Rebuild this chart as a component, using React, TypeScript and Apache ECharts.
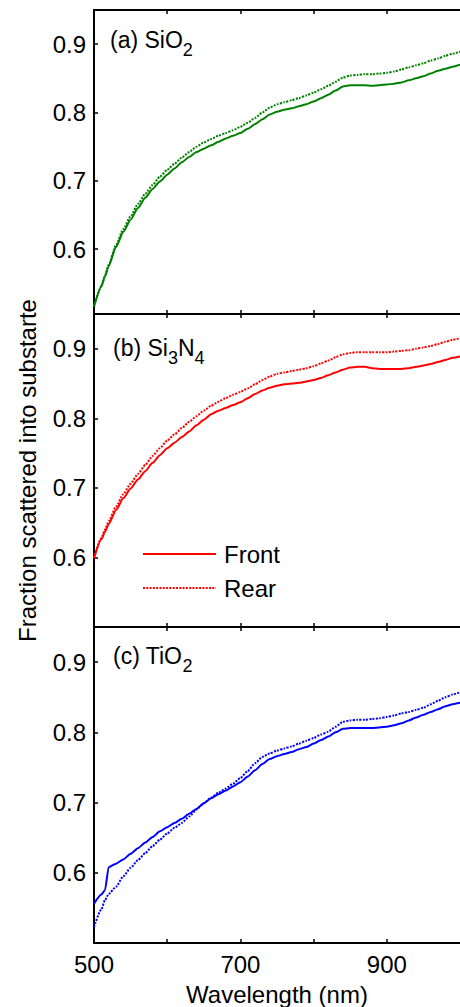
import React, { useEffect, useRef } from "react";
import * as echarts from "echarts";

const wavelength = [500, 510, 515, 520, 530, 540, 550, 560, 570, 580, 590, 600, 610, 620, 630, 640, 650, 660, 670, 680, 690, 700, 710, 720, 730, 740, 750, 760, 770, 780, 790, 800, 810, 820, 830, 840, 850, 860, 870, 880, 890, 900, 910, 920, 930, 940, 950, 960, 970, 980, 990, 1000];

const sio2Front = [0.516, 0.545, 0.560, 0.575, 0.603, 0.625, 0.643, 0.660, 0.675, 0.688, 0.699, 0.709, 0.718, 0.727, 0.735, 0.742, 0.747, 0.752, 0.757, 0.762, 0.766, 0.770, 0.776, 0.783, 0.790, 0.797, 0.801, 0.804, 0.806, 0.809, 0.812, 0.816, 0.821, 0.826, 0.832, 0.838, 0.840, 0.840, 0.840, 0.839, 0.840, 0.841, 0.842, 0.844, 0.847, 0.850, 0.853, 0.857, 0.861, 0.864, 0.867, 0.870];
const sio2Rear = [0.516, 0.546, 0.561, 0.577, 0.606, 0.629, 0.648, 0.666, 0.681, 0.694, 0.706, 0.716, 0.725, 0.734, 0.742, 0.750, 0.756, 0.761, 0.766, 0.770, 0.774, 0.779, 0.785, 0.792, 0.800, 0.807, 0.812, 0.815, 0.818, 0.821, 0.825, 0.829, 0.834, 0.839, 0.845, 0.851, 0.854, 0.855, 0.856, 0.856, 0.857, 0.858, 0.860, 0.863, 0.866, 0.869, 0.872, 0.876, 0.879, 0.883, 0.886, 0.889];

const si3n4Front = [0.599, 0.626, 0.637, 0.648, 0.668, 0.685, 0.699, 0.712, 0.724, 0.736, 0.747, 0.757, 0.765, 0.773, 0.781, 0.790, 0.798, 0.806, 0.811, 0.815, 0.819, 0.823, 0.829, 0.835, 0.840, 0.844, 0.847, 0.849, 0.850, 0.851, 0.853, 0.855, 0.858, 0.862, 0.866, 0.870, 0.873, 0.874, 0.874, 0.872, 0.871, 0.871, 0.871, 0.871, 0.872, 0.874, 0.876, 0.878, 0.881, 0.884, 0.887, 0.889];
const si3n4Rear = [0.599, 0.628, 0.640, 0.652, 0.673, 0.691, 0.706, 0.720, 0.733, 0.746, 0.757, 0.768, 0.777, 0.786, 0.795, 0.803, 0.811, 0.818, 0.824, 0.829, 0.834, 0.838, 0.843, 0.849, 0.855, 0.860, 0.864, 0.866, 0.868, 0.870, 0.872, 0.875, 0.879, 0.883, 0.888, 0.892, 0.894, 0.895, 0.895, 0.895, 0.895, 0.895, 0.896, 0.897, 0.898, 0.900, 0.902, 0.904, 0.907, 0.910, 0.913, 0.915];

const tio2Front = [0.556, 0.569, 0.575, 0.608, 0.613, 0.619, 0.627, 0.635, 0.643, 0.651, 0.659, 0.665, 0.671, 0.677, 0.684, 0.691, 0.699, 0.706, 0.712, 0.717, 0.723, 0.729, 0.737, 0.746, 0.755, 0.762, 0.766, 0.769, 0.772, 0.776, 0.779, 0.784, 0.789, 0.794, 0.800, 0.805, 0.806, 0.806, 0.806, 0.806, 0.807, 0.808, 0.810, 0.813, 0.817, 0.821, 0.825, 0.829, 0.833, 0.837, 0.840, 0.842];
const tio2Rear = [0.523, 0.548, 0.561, 0.570, 0.580, 0.595, 0.607, 0.618, 0.628, 0.638, 0.647, 0.656, 0.664, 0.671, 0.680, 0.690, 0.699, 0.707, 0.714, 0.720, 0.727, 0.735, 0.745, 0.756, 0.765, 0.770, 0.774, 0.777, 0.780, 0.784, 0.788, 0.792, 0.797, 0.801, 0.808, 0.815, 0.817, 0.818, 0.818, 0.819, 0.820, 0.822, 0.824, 0.827, 0.829, 0.832, 0.835, 0.840, 0.845, 0.850, 0.854, 0.857];

const xTicks = [600, 700, 800, 900];
const xLabels = [500, 700, 900];
const yTicks = [0.6, 0.7, 0.8, 0.9];
// panel labels: pieces of [text, isSubscript]
const panelLabels: [string, boolean][][] = [
  [["(a) SiO", false], ["2", true]],
  [["(b) Si", false], ["3", true], ["N", false], ["4", true]],
  [["(c) TiO", false], ["2", true]],
];
const seriesNames = ["Front", "Rear"];
const xName = "Wavelength (nm)";
const yName = "Fraction scattered into substarte";

const FONT = "'Liberation Sans', Arial, Helvetica, sans-serif";
const MAIN_SIZE = 23;
const SUB_SIZE = 18;

function textWidth(text: string, size: number): number {
  const c = document.createElement("canvas").getContext("2d");
  if (!c) return text.length * size * 0.55;
  c.font = `${size}px ${FONT}`;
  return c.measureText(text).width;
}

export default function App() {
  const ref = useRef<HTMLDivElement>(null);
  useEffect(() => {
    if (!ref.current) return;
    const chart = echarts.init(ref.current, null, { renderer: "svg" });

    const panels = [
      { top: 10, height: 304, min: 0.505, front: sio2Front, rear: sio2Rear, color: "#008000" },
      { top: 314, height: 313, min: 0.5, front: si3n4Front, rear: si3n4Rear, color: "#ff0000" },
      { top: 627, height: 316, min: 0.5, front: tio2Front, rear: tio2Rear, color: "#0000ff" },
    ];
    const labelMidY = [40, 348, 656];
    const labelLeftX = [110, 113, 113];

    const grid: any[] = [];
    const xAxis: any[] = [];
    const yAxis: any[] = [];
    const series: any[] = [];
    const graphic: any[] = [];

    const axisLine = { show: true, lineStyle: { color: "#000", width: 2 } };

    panels.forEach((p, i) => {
      grid.push({ left: 94, top: p.top, width: 374, height: p.height });
      const isLast = i === panels.length - 1;
      xAxis.push({
        type: "value",
        gridIndex: i,
        position: "bottom",
        min: 500,
        max: 1000,
        axisLine,
        splitLine: { show: false },
        axisTick: { show: true, inside: true, length: 4, customValues: xTicks, lineStyle: { color: "#000", width: 1.5 } },
        axisLabel: {
          show: isLast,
          customValues: xLabels,
          margin: 9,
          fontSize: 24,
          color: "#000",
          fontFamily: FONT,
        },
        name: isLast ? xName : "",
        nameLocation: "middle",
        nameGap: 39,
        nameTextStyle: { fontSize: 24, color: "#000", fontFamily: FONT },
      });
      xAxis.push({
        type: "value",
        gridIndex: i,
        position: "top",
        min: 500,
        max: 1000,
        axisLine,
        splitLine: { show: false },
        axisTick: { show: true, inside: true, length: 4, customValues: xTicks, lineStyle: { color: "#000", width: 1.5 } },
        axisLabel: { show: false },
      });
      yAxis.push({
        type: "value",
        gridIndex: i,
        min: p.min,
        max: 0.95,
        axisLine,
        splitLine: { show: false },
        axisTick: { show: true, inside: true, length: 4, customValues: yTicks, lineStyle: { color: "#000", width: 1.5 } },
        axisLabel: {
          customValues: yTicks,
          margin: 8,
          fontSize: 24,
          color: "#000",
          fontFamily: FONT,
          formatter: (v: number) => v.toFixed(1),
        },
        name: i === 1 ? yName : "",
        nameLocation: "middle",
        nameGap: 55,
        nameTextStyle: { fontSize: 24, color: "#000", fontFamily: FONT },
      });
      const isLegendPanel = i === 1;
      series.push({
        type: "line",
        name: isLegendPanel ? seriesNames[0] : `${seriesNames[0]} ${i}`,
        xAxisIndex: i * 2,
        yAxisIndex: i,
        data: wavelength.map((w, k) => [w, p.front[k]]),
        showSymbol: false,
        symbol: "none",
        smooth: 0.2,
        smoothMonotone: "x",
        lineStyle: { color: p.color, width: 2, type: "solid" },
        itemStyle: { color: p.color },
        z: 3,
      });
      series.push({
        type: "line",
        name: isLegendPanel ? seriesNames[1] : `${seriesNames[1]} ${i}`,
        xAxisIndex: i * 2,
        yAxisIndex: i,
        data: wavelength.map((w, k) => [w, p.rear[k]]),
        showSymbol: false,
        symbol: "none",
        smooth: 0.2,
        smoothMonotone: "x",
        lineStyle: { color: p.color, width: 2, type: [2, 1.3] },
        itemStyle: { color: p.color },
        z: 3,
      });

      let x = labelLeftX[i];
      panelLabels[i].forEach(([txt, sub]) => {
        const size = sub ? SUB_SIZE : MAIN_SIZE;
        graphic.push({
          type: "text",
          x,
          y: labelMidY[i] + (sub ? 10 : 0),
          style: {
            text: txt,
            fill: "#000",
            fontSize: size,
            fontFamily: FONT,
            align: "left",
            verticalAlign: "middle",
          },
        });
        x += textWidth(txt, size);
      });
    });

    chart.setOption({
      animation: false,
      backgroundColor: "#fff",
      grid,
      xAxis,
      yAxis,
      series,
      graphic,
      legend: {
        data: seriesNames,
        orient: "vertical",
        left: 142,
        top: 542,
        itemWidth: 73,
        itemHeight: 24,
        itemGap: 10,
        padding: 0,
        selectedMode: false,
        itemStyle: { opacity: 0, borderWidth: 0 },
        textStyle: { fontSize: 24, color: "#000", fontFamily: FONT, lineHeight: 24, padding: [0, 0, 0, 3] },
      },
    });
    return () => chart.dispose();
  }, []);
  return <div ref={ref} style={{ position: "absolute", left: 0, top: 0, width: 460, height: 1007 }} />;
}
